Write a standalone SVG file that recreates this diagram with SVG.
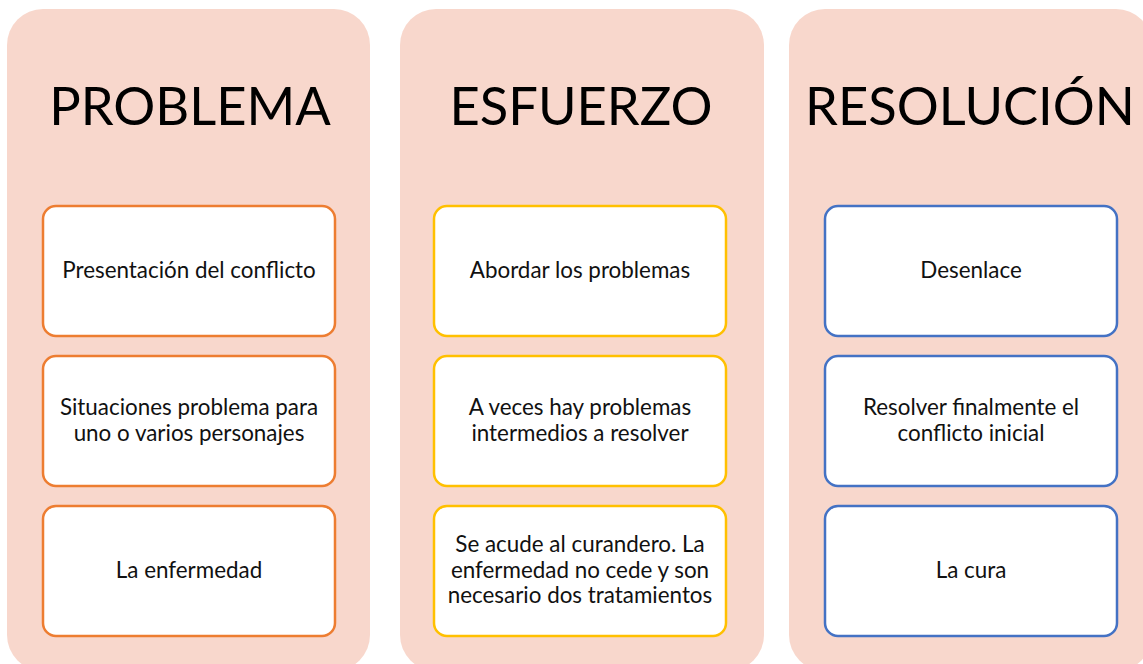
<svg xmlns="http://www.w3.org/2000/svg" width="1143" height="664" viewBox="0 0 1143 664">
<style>
.panel{fill:#F8D7CC}
.box{fill:#FFFFFF;stroke-width:2.5}
.o{stroke:#ED7D31}
.y{stroke:#FFC000}
.b{stroke:#4472C4}
.title{font-family:Lato,"Open Sans",sans-serif;font-size:52.5px;fill:#000;text-anchor:middle}
.t{font-family:Lato,"Open Sans",sans-serif;font-size:22.4px;fill:#111;text-anchor:middle}
</style>
<rect width="1143" height="664" fill="#FFFFFF"/>
<g id="panel-problema">
<rect class="panel" x="7" y="9" width="363" height="662" rx="36"/>
<text class="title" x="190" y="125">PROBLEMA</text>
</g>
<g id="panel-esfuerzo">
<rect class="panel" x="400" y="9" width="364" height="662" rx="36"/>
<text class="title" x="581" y="125">ESFUERZO</text>
</g>
<g id="panel-resolucion">
<rect class="panel" x="789" y="9" width="363" height="662" rx="36"/>
<text class="title" x="970" y="125">RESOLUCIÓN</text>
</g>
<g id="p1">
<rect class="box o" x="43" y="206" width="292" height="130" rx="13"/>
<text class="t" x="189" y="278">Presentación del conflicto</text>
</g>
<g id="p2">
<rect class="box o" x="43" y="356" width="292" height="130" rx="13"/>
<text class="t" x="189" y="415">Situaciones problema para</text>
<text class="t" x="189" y="441">uno o varios personajes</text>
</g>
<g id="p3">
<rect class="box o" x="43" y="506" width="292" height="130" rx="13"/>
<text class="t" x="189" y="578">La enfermedad</text>
</g>
<g id="e1">
<rect class="box y" x="434" y="206" width="292" height="130" rx="13"/>
<text class="t" x="580" y="278">Abordar los problemas</text>
</g>
<g id="e2">
<rect class="box y" x="434" y="356" width="292" height="130" rx="13"/>
<text class="t" x="580" y="415">A veces hay problemas</text>
<text class="t" x="580" y="441">intermedios a resolver</text>
</g>
<g id="e3">
<rect class="box y" x="434" y="506" width="292" height="130" rx="13"/>
<text class="t" x="580" y="552">Se acude al curandero. La</text>
<text class="t" x="580" y="578">enfermedad no cede y son</text>
<text class="t" x="580" y="603">necesario dos tratamientos</text>
</g>
<g id="r1">
<rect class="box b" x="825" y="206" width="292" height="130" rx="13"/>
<text class="t" x="971" y="278">Desenlace</text>
</g>
<g id="r2">
<rect class="box b" x="825" y="356" width="292" height="130" rx="13"/>
<text class="t" x="971" y="415">Resolver finalmente el</text>
<text class="t" x="971" y="441">conflicto inicial</text>
</g>
<g id="r3">
<rect class="box b" x="825" y="506" width="292" height="130" rx="13"/>
<text class="t" x="971" y="578">La cura</text>
</g>
<g id="connectors"></g>
</svg>
